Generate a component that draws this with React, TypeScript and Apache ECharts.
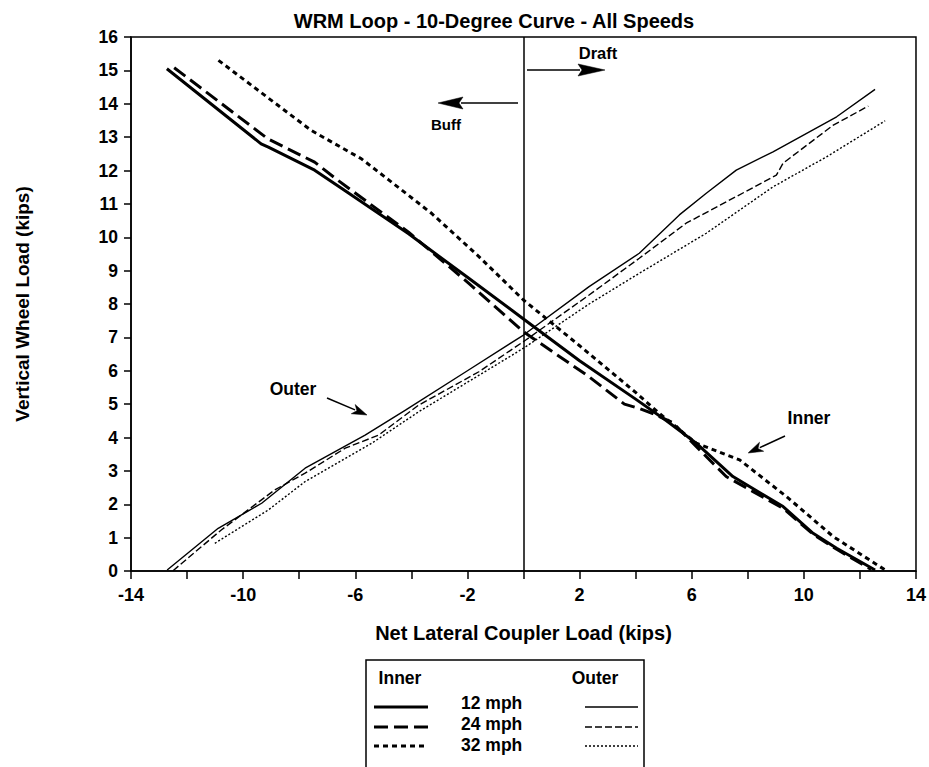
import React, { useEffect, useRef } from "react";
import * as echarts from "echarts";

const TITLE = "WRM Loop - 10-Degree Curve - All Speeds";
const X_NAME = "Net Lateral Coupler Load (kips)";
const Y_NAME = "Vertical Wheel Load (kips)";
const SPEEDS = ["12 mph", "24 mph", "32 mph"];

const inner12: number[][] = [
  [-12.72, 15.05], [-9.36, 12.8], [-9.1, 12.7], [-7.45, 12.01], [-6.48, 11.46],
  [-4.11, 10.11], [-2, 8.8], [0, 7.55], [2, 6.3], [4, 5.15], [5.1, 4.5],
  [6.16, 3.83], [7.47, 2.83], [9.26, 1.93], [10.33, 1.13], [11.17, 0.68], [12.54, 0.03],
];
const inner24: number[][] = [
  [-12.46, 15.08], [-9.12, 12.95], [-7.45, 12.25], [-6.61, 11.7], [-4.1, 10.15],
  [-1.95, 8.62], [0, 7.17], [0.55, 6.85], [2.34, 5.82], [3.6, 5.0], [4.13, 4.87],
  [4.61, 4.72], [5.32, 4.45], [6.16, 3.73], [7.23, 2.83], [8.19, 2.38], [9.26, 1.88],
  [10.33, 1.1], [11.17, 0.65], [12.4, 0.05],
];
const inner32: number[][] = [
  [-10.88, 15.3], [-7.57, 13.2], [-5.78, 12.35], [-4.81, 11.72], [-3.27, 10.71],
  [-1.59, 9.42], [0, 8.12], [2, 6.75], [4, 5.35], [4.85, 4.72], [6.16, 3.83],
  [7.71, 3.33], [9.38, 2.23], [11.05, 1.03], [12.9, 0.03],
];
const outer12: number[][] = [
  [-12.71, 0.03], [-10.89, 1.28], [-9.34, 2.03], [-7.79, 3.08], [-5.65, 4.07],
  [-4.21, 4.82], [-2, 6.0], [0, 7.07], [2.34, 8.52], [4.13, 9.52], [5.56, 10.67],
  [6.52, 11.32], [7.59, 12.01], [8.9, 12.56], [11.17, 13.61], [12.54, 14.43],
];
const outer24: number[][] = [
  [-12.5, 0.01], [-10.78, 1.23], [-8.87, 2.43], [-7.79, 2.93], [-6.36, 3.68],
  [-5.17, 4.07], [-3.74, 4.97], [-1.59, 5.97], [0.08, 6.92], [2.34, 8.27],
  [4.13, 9.37], [5.8, 10.42], [7.59, 11.22], [9.02, 11.86], [9.26, 12.22],
  [11.05, 13.36], [12.3, 13.93],
];
const outer32: number[][] = [
  [-11.01, 0.83], [-9.1, 1.83], [-7.79, 2.68], [-5.41, 3.83], [-3.74, 4.77],
  [-0.4, 6.47], [0.08, 6.72], [2.34, 8.0], [4.13, 8.92], [6.52, 10.12],
  [8.9, 11.51], [10.81, 12.41], [12.9, 13.49],
];

const FONT = "'Liberation Sans', Arial, Helvetica, sans-serif";
const BLACK = "#000";

const INNER_W = 3;
const OUTER_W = 1.4;
const DASH_INNER_24 = [14, 6];
const DASH_INNER_32 = [5, 4];
const DASH_OUTER_24 = [7, 3];
const DASH_OUTER_32 = [2, 2];

function arrow(x1: number, y1: number, x2: number, y2: number, headLen = 25, halfW = 6) {
  const dx = x2 - x1;
  const dy = y2 - y1;
  const len = Math.sqrt(dx * dx + dy * dy);
  const ux = dx / len;
  const uy = dy / len;
  const bx = x2 - ux * headLen;
  const by = y2 - uy * headLen;
  const px = -uy * halfW;
  const py = ux * halfW;
  return [
    {
      type: "line",
      shape: { x1, y1, x2: bx + ux * 2, y2: by + uy * 2 },
      style: { stroke: BLACK, lineWidth: 1.5 },
      silent: true,
    },
    {
      type: "polygon",
      shape: { points: [[x2, y2], [bx + px, by + py], [bx + ux * 4, by + uy * 4], [bx - px, by - py]] },
      style: { fill: BLACK, stroke: BLACK, lineWidth: 0.5 },
      silent: true,
    },
  ];
}

function legendSample(x1: number, x2: number, y: number, width: number, dash: number[] | null) {
  return {
    type: "line",
    shape: { x1, y1: y, x2, y2: y },
    style: { stroke: BLACK, lineWidth: width, lineDash: dash || undefined },
    silent: true,
  };
}

export default function App() {
  const ref = useRef<HTMLDivElement>(null);
  useEffect(() => {
    if (!ref.current) return;
    const chart = echarts.init(ref.current, undefined, { renderer: "svg" });
    const mk = (name: string, data: number[][], width: number, dash: any, extra: any = {}) => ({
      name,
      type: "line",
      data,
      showSymbol: false,
      symbol: "none",
      lineStyle: { color: BLACK, width, type: dash || "solid" },
      z: 3,
      ...extra,
    });
    const textStyle = (size: number) => ({ fontFamily: FONT, fontWeight: "bold", fontSize: size, fill: BLACK });
    const sampleY = [707, 727, 746];
    const textY = [703, 724, 745];
    const graphic: any[] = [
      {
        type: "text",
        x: 494,
        y: 21,
        style: { text: TITLE, ...textStyle(20), textAlign: "center", textVerticalAlign: "middle" },
      },
      { type: "text", x: 446, y: 124, style: { text: "Buff", ...textStyle(15), textAlign: "center", textVerticalAlign: "middle" } },
      { type: "text", x: 598, y: 53, style: { text: "Draft", ...textStyle(16.5), textAlign: "center", textVerticalAlign: "middle" } },
      { type: "text", x: 293, y: 389, style: { text: "Outer", ...textStyle(17.5), textAlign: "center", textVerticalAlign: "middle" } },
      { type: "text", x: 809, y: 418, style: { text: "Inner", ...textStyle(17.5), textAlign: "center", textVerticalAlign: "middle" } },
      ...arrow(518, 103, 438, 103, 25, 6),
      ...arrow(527, 70, 605, 70, 27, 6),
      ...arrow(327, 398, 367, 415, 15, 5),
      ...arrow(785, 436, 748, 453, 15, 5),
      {
        type: "rect",
        shape: { x: 366, y: 660, width: 278, height: 130 },
        style: { fill: "none", stroke: BLACK, lineWidth: 1.5 },
        silent: true,
      },
      { type: "text", x: 400, y: 678, style: { text: "Inner", ...textStyle(17.5), textAlign: "center", textVerticalAlign: "middle" } },
      { type: "text", x: 595, y: 678, style: { text: "Outer", ...textStyle(17.5), textAlign: "center", textVerticalAlign: "middle" } },
      ...SPEEDS.map((s, i) => ({
        type: "text",
        x: 461,
        y: textY[i],
        style: { text: s, ...textStyle(17.5), textAlign: "left", textVerticalAlign: "middle" },
      })),
      legendSample(374, 428, sampleY[0], INNER_W, null),
      legendSample(374, 428, sampleY[1], INNER_W, DASH_INNER_24),
      legendSample(374, 428, sampleY[2], INNER_W, DASH_INNER_32),
      legendSample(585, 638, sampleY[0], OUTER_W, null),
      legendSample(585, 638, sampleY[1], OUTER_W, DASH_OUTER_24),
      legendSample(585, 638, sampleY[2], OUTER_W, DASH_OUTER_32),
    ];
    chart.setOption({
      animation: false,
      backgroundColor: "#fff",
      grid: {
        left: 131,
        right: 13,
        top: 37,
        bottom: 196,
        show: true,
        borderColor: BLACK,
        borderWidth: 1.5,
        backgroundColor: "transparent",
      },
      xAxis: {
        type: "value",
        min: -14,
        max: 14,
        interval: 2,
        name: X_NAME,
        nameLocation: "middle",
        nameGap: 52,
        nameTextStyle: { fontFamily: FONT, fontWeight: "bold", fontSize: 20, color: BLACK },
        axisLine: { show: true, onZero: false, lineStyle: { color: BLACK, width: 1.5 } },
        axisTick: { show: true, length: 8, lineStyle: { color: BLACK, width: 1.5 } },
        axisLabel: {
          margin: 15,
          fontFamily: FONT,
          fontWeight: "bold",
          fontSize: 18,
          color: BLACK,
          formatter: (v: number) => ((v + 14) % 4 === 0 ? String(v) : ""),
        },
        splitLine: { show: false },
      },
      yAxis: {
        type: "value",
        min: 0,
        max: 16,
        interval: 1,
        name: Y_NAME,
        nameLocation: "middle",
        nameGap: 99,
        nameTextStyle: { fontFamily: FONT, fontWeight: "bold", fontSize: 19, color: BLACK },
        axisLine: { show: true, onZero: false, lineStyle: { color: BLACK, width: 1.5 } },
        axisTick: { show: true, length: 7, lineStyle: { color: BLACK, width: 1.5 } },
        axisLabel: { margin: 13, fontFamily: FONT, fontWeight: "bold", fontSize: 17.5, color: BLACK },
        splitLine: { show: false },
      },
      series: [
        mk("Inner 12 mph", inner12, INNER_W, null, {
          markLine: {
            silent: true,
            symbol: ["none", "none"],
            label: { show: false },
            lineStyle: { color: BLACK, width: 1.5, type: "solid" },
            data: [{ xAxis: 0 }],
          },
        }),
        mk("Inner 24 mph", inner24, INNER_W, DASH_INNER_24),
        mk("Inner 32 mph", inner32, INNER_W, DASH_INNER_32),
        mk("Outer 12 mph", outer12, OUTER_W, null),
        mk("Outer 24 mph", outer24, OUTER_W, DASH_OUTER_24),
        mk("Outer 32 mph", outer32, OUTER_W, DASH_OUTER_32),
      ],
      graphic,
    });
    return () => chart.dispose();
  }, []);
  return <div ref={ref} style={{ position: "absolute", left: 0, top: 0, width: 929, height: 767 }} />;
}
